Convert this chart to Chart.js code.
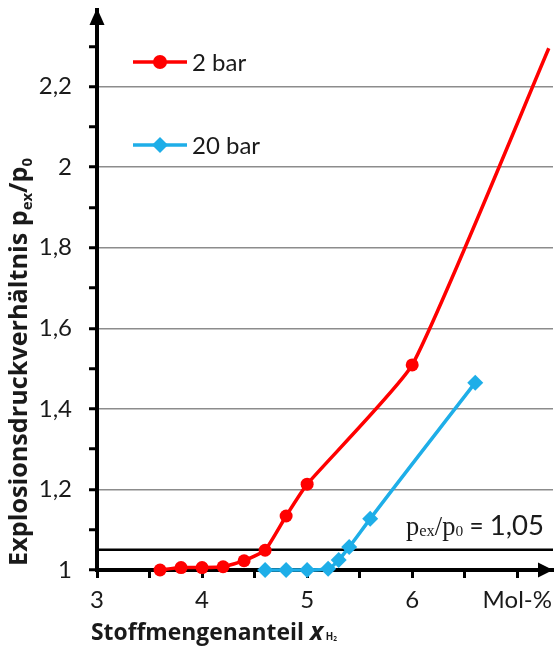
<!DOCTYPE html>
<html>
<head>
<meta charset="utf-8">
<script src="https://cdn.jsdelivr.net/npm/chart.js@4.4.1/dist/chart.umd.min.js"></script>
<style>
  html, body { margin: 0; padding: 0; background: #fff; }
  #wrap { width: 560px; height: 650px; }
</style>
</head>
<body>
<div id="wrap"><canvas id="canvas"></canvas></div>
<script>
// values
const seriesNames = ['2 bar', '20 bar'];
const xBar2 = [3.6, 3.8, 4.0, 4.2, 4.4, 4.6, 4.8, 5.0, 6.0, 7.3];
const yBar2 = [1.0, 1.006, 1.006, 1.008, 1.023, 1.049, 1.134, 1.213, 1.509, 2.295];
const xBar20 = [4.6, 4.8, 5.0, 5.2, 5.3, 5.4, 5.6, 6.6];
const yBar20 = [1.0, 1.0, 1.0, 1.003, 1.025, 1.057, 1.127, 1.465];
const xLimit = [3, 7.34];
const yLimit = [1.05, 1.05];
const xTickLabels = { 3: '3', 4: '4', 5: '5', 6: '6', 7: 'Mol-%' };

const red = '#ff0000';
const blue = '#1eaee8';
const textColor = '#1a1a1a';

const toPoints = (xs, ys) => xs.map((x, i) => ({ x: x, y: ys[i] }));

// draw text pieces one after another; size is a font size, scaled so the
// whole run gets the wanted width when one is given
const drawRuns = (ctx, runs, x, y, align, width) => {
  const fontOf = (r, k) => `${r.style || ''} ${r.size * k}px ${r.family}`;
  const measure = (k) => runs.reduce((w, r) => {
    ctx.font = fontOf(r, k);
    return w + ctx.measureText(r.t).width;
  }, 0);
  const k = width ? width / measure(1) : 1;
  const w = measure(k);
  let cx = align === 'center' ? x - w / 2 : x;
  runs.forEach(r => {
    ctx.font = fontOf(r, k);
    ctx.fillText(r.t, cx, y + (r.dy || 0) * k);
    cx += ctx.measureText(r.t).width;
  });
};

const decorations = {
  id: 'decorations',
  afterDraw(chart) {
    const ctx = chart.ctx;
    const area = chart.chartArea;
    const yScale = chart.scales.y;
    ctx.save();
    ctx.fillStyle = '#000';

    // arrow heads on both axes
    ctx.beginPath();
    ctx.moveTo(area.left, area.top - 2);
    ctx.lineTo(area.left - 7.5, area.top + 15);
    ctx.lineTo(area.left + 7.5, area.top + 15);
    ctx.closePath();
    ctx.fill();
    ctx.beginPath();
    ctx.moveTo(area.right, area.bottom);
    ctx.lineTo(area.right - 15, area.bottom - 7.5);
    ctx.lineTo(area.right - 15, area.bottom + 7.5);
    ctx.closePath();
    ctx.fill();

    // legend inside the plot
    ctx.textAlign = 'left';
    ctx.textBaseline = 'middle';
    chart.data.datasets.slice(0, 2).forEach((ds, i) => {
      const ly = [62, 145][i];
      ctx.strokeStyle = ds.borderColor;
      ctx.lineWidth = 3.5;
      ctx.beginPath();
      ctx.moveTo(133, ly);
      ctx.lineTo(187, ly);
      ctx.stroke();
      ctx.fillStyle = ds.borderColor;
      ctx.beginPath();
      if (i === 0) {
        ctx.arc(160, ly, 7, 0, Math.PI * 2);
      } else {
        ctx.moveTo(160, ly - 8);
        ctx.lineTo(168, ly);
        ctx.lineTo(160, ly + 8);
        ctx.lineTo(152, ly);
        ctx.closePath();
      }
      ctx.fill();
      ctx.fillStyle = textColor;
      ctx.font = '24px Lato';
      ctx.fillText(ds.label, 192, ly + 1);
    });

    // threshold label
    ctx.textBaseline = 'alphabetic';
    const ty = yScale.getPixelForValue(yLimit[0]) - 15;
    drawRuns(ctx, [
      { t: 'p', size: 24, family: '"Liberation Serif"' },
      { t: 'ex', size: 15, family: '"Liberation Serif"', dy: 1 },
      { t: '/p', size: 24, family: '"Liberation Serif"' },
      { t: '0', size: 14, family: '"Liberation Serif"', dy: 1 },
      { t: ' = ', size: 22, family: 'Lato' },
      { t: '1,05', size: 25, family: 'Lato' }
    ], 406, ty, 'left', 138);

    // x axis title
    drawRuns(ctx, [
      { t: 'Stoffmengenanteil ', style: 'bold', size: 21, family: '"Open Sans"' },
      { t: 'x', style: 'italic bold', size: 23, family: '"Open Sans"' },
      { t: ' H', style: 'bold', size: 9, family: '"Open Sans"' },
      { t: '2', style: 'bold', size: 6, family: '"Open Sans"', dy: 1 }
    ], 91, 640, 'left', 246);

    // y axis title
    ctx.translate(27, 362);
    ctx.rotate(-Math.PI / 2);
    drawRuns(ctx, [
      { t: 'Explosionsdruckverhältnis p', style: 'bold', size: 22, family: '"Open Sans"' },
      { t: 'ex', style: 'bold', size: 13, family: '"Open Sans"', dy: 4 },
      { t: '/p', style: 'bold', size: 22, family: '"Open Sans"' },
      { t: '0', style: 'bold', size: 13, family: '"Open Sans"', dy: 4 }
    ], 0, 0, 'center', 408);
    ctx.restore();
  }
};

const isMajorY = (v) => Math.round(v * 10) % 2 === 0;

new Chart(document.getElementById('canvas'), {
  type: 'line',
  data: {
    datasets: [
      {
        label: seriesNames[0],
        data: toPoints(xBar2, yBar2),
        borderColor: red,
        backgroundColor: red,
        borderWidth: 3.5,
        pointStyle: 'circle',
        pointRadius: (c) => (c.dataIndex === xBar2.length - 1 ? 0 : 6.5),
        pointBorderWidth: 0,
        tension: 0.15,
        clip: false
      },
      {
        label: seriesNames[1],
        data: toPoints(xBar20, yBar20),
        borderColor: blue,
        backgroundColor: blue,
        borderWidth: 3.5,
        pointStyle: 'rectRot',
        pointRadius: 8,
        pointBorderWidth: 0,
        cubicInterpolationMode: 'monotone',
        clip: false
      },
      {
        label: 'limit',
        data: toPoints(xLimit, yLimit),
        borderColor: '#000',
        borderWidth: 2.5,
        pointRadius: 0,
        clip: false
      }
    ]
  },
  options: {
    responsive: true,
    maintainAspectRatio: false,
    animation: false,
    layout: { autoPadding: false, padding: { top: 10, right: 7, left: 0, bottom: 0 } },
    plugins: {
      legend: { display: false },
      tooltip: { enabled: false }
    },
    scales: {
      x: {
        type: 'linear',
        min: 3,
        max: 7.34,
        afterFit: (s) => {
          s.height = 80;
          s.paddingLeft = 0;
          s.paddingRight = 0;
        },
        border: { color: '#000', width: 4 },
        grid: {
          drawOnChartArea: false,
          drawTicks: true,
          tickLength: 8,
          tickWidth: 3,
          tickColor: '#000'
        },
        ticks: {
          stepSize: 0.5,
          includeBounds: false,
          autoSkip: false,
          maxRotation: 0,
          padding: 8,
          color: textColor,
          font: { family: 'Lato', size: 24 },
          callback: (v) => xTickLabels[v] || ''
        }
      },
      y: {
        min: 1,
        max: 2.39,
        afterFit: (s) => {
          s.width = 97;
          s.paddingTop = 0;
          s.paddingBottom = 0;
        },
        border: { color: '#000', width: 4 },
        grid: {
          color: (c) => (c.tick && isMajorY(c.tick.value) ? '#8c8c8c' : 'rgba(0,0,0,0)'),
          lineWidth: 1.5,
          drawTicks: true,
          tickLength: 8,
          tickWidth: 3,
          tickColor: '#000'
        },
        ticks: {
          stepSize: 0.1,
          includeBounds: false,
          maxTicksLimit: 100,
          autoSkip: false,
          padding: 17,
          color: textColor,
          font: { family: 'Lato', size: 24 },
          callback: (v) => (isMajorY(v) ? String(Math.round(v * 10) / 10).replace('.', ',') : '')
        }
      }
    }
  },
  plugins: [decorations]
});
</script>
</body>
</html>
